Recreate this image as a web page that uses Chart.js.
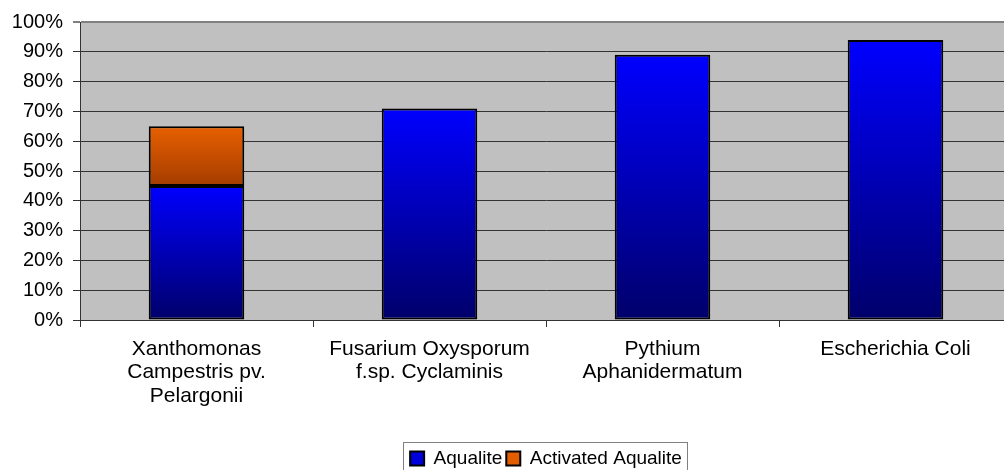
<!DOCTYPE html>
<html>
<head>
<meta charset="utf-8">
<script src="https://cdn.jsdelivr.net/npm/chart.js@4"></script>
<style>
  html, body { margin: 0; padding: 0; background: #fff; overflow: hidden; }
  #wrap { width: 1004px; height: 470px; overflow: hidden; }
</style>
</head>
<body>
<div id="wrap"><canvas id="myChart" width="1012" height="470"></canvas></div>
<script>
const categorias = [
  ['Xanthomonas', 'Campestris pv.', 'Pelargonii'],
  ['Fusarium Oxysporum', 'f.sp. Cyclaminis'],
  ['Pythium', 'Aphanidermatum'],
  ['Escherichia Coli']
];
const aqualite = [45, 71, 89, 94];
const activatedAqualite = [20, null, null, null];
const tickLabels = ['0%', '10%', '20%', '30%', '40%', '50%', '60%', '70%', '80%', '90%', '100%'];

const familia = 'Liberation Sans, Arial, sans-serif';
const coloresLeyenda = ['#0000DC', '#E25E00'];

// degradado por barra, de arriba (claro) a abajo (oscuro)
function degradado(ctx, claro, oscuro, plano) {
  const chart = ctx.chart;
  if (ctx.type !== 'data' || !chart.chartArea || !chart.scales.y) return plano;
  const y = chart.scales.y;
  const valor = ctx.raw;
  if (valor == null) return plano;
  const base = ctx.datasetIndex === 1 ? (aqualite[ctx.dataIndex] || 0) : 0;
  const top = y.getPixelForValue(base + valor);
  const bottom = y.getPixelForValue(base);
  const g = chart.ctx.createLinearGradient(0, top, 0, bottom);
  g.addColorStop(0, claro);
  g.addColorStop(1, oscuro);
  return g;
}

const fondoGris = {
  id: 'fondoGris',
  beforeDraw(chart) {
    const { ctx, chartArea: a } = chart;
    ctx.save();
    ctx.fillStyle = '#C0C0C0';
    ctx.fillRect(a.left, a.top, a.right - a.left, a.bottom - a.top);
    ctx.restore();
  }
};

// baja un poco la leyenda, como en el original
const bajarLeyenda = {
  id: 'bajarLeyenda',
  afterLayout(chart) {
    chart.legend.top += 8;
    chart.legend.bottom += 8;
  }
};

const bordeLeyenda = {
  id: 'bordeLeyenda',
  afterDraw(chart) {
    const cajas = chart.legend.legendHitBoxes;
    if (!cajas || !cajas.length) return;
    const izq = Math.min(...cajas.map(c => c.left)) - 7;
    const der = Math.max(...cajas.map(c => c.left + c.width)) + 5;
    const arr = Math.min(...cajas.map(c => c.top)) - 7;
    const abj = Math.max(...cajas.map(c => c.top + c.height)) + 7;
    const ctx = chart.ctx;
    ctx.save();
    ctx.strokeStyle = '#808080';
    ctx.lineWidth = 1;
    ctx.strokeRect(Math.round(izq) + 0.5, Math.round(arr) + 0.5, Math.round(der - izq), Math.round(abj - arr));
    ctx.restore();
  }
};

const ctx = document.getElementById('myChart');

new Chart(ctx, {
  type: 'bar',
  data: {
    labels: categorias,
    datasets: [{
      label: 'Aqualite',
      data: aqualite,
      backgroundColor: c => degradado(c, '#0000FF', '#00006A', coloresLeyenda[0]),
      borderColor: '#000',
      borderWidth: 2,
      borderSkipped: false
    }, {
      label: 'Activated Aqualite',
      data: activatedAqualite,
      backgroundColor: c => degradado(c, '#E86000', '#A43C00', coloresLeyenda[1]),
      borderColor: '#000',
      borderWidth: 2,
      borderSkipped: false
    }]
  },
  options: {
    responsive: false,
    animation: false,
    layout: { padding: { top: 17, right: 0, left: 0, bottom: 0 } },
    datasets: { bar: { barPercentage: 0.41, categoryPercentage: 1 } },
    scales: {
      x: {
        stacked: true,
        afterFit: s => { s.height = 117; },
        border: { color: '#333', width: 1 },
        grid: { drawOnChartArea: false, offset: true, color: '#333', tickLength: 7 },
        ticks: {
          color: '#000',
          font: { family: familia, size: 21, lineHeight: 1.12 },
          padding: 10,
          maxRotation: 0,
          autoSkip: false
        }
      },
      y: {
        stacked: true,
        min: 0,
        max: 100,
        afterFit: s => { s.width = 80; },
        border: { color: '#333', width: 1 },
        grid: {
          color: c => c.index === 10 ? '#808080' : '#333',
          lineWidth: c => c.index === 10 ? 2 : 1,
          tickLength: 7
        },
        ticks: {
          stepSize: 10,
          color: '#000',
          font: { family: familia, size: 20 },
          padding: 10,
          callback: (v, i) => tickLabels[i]
        }
      }
    },
    plugins: {
      legend: {
        position: 'bottom',
        fullSize: false,
        labels: {
          color: '#000',
          font: { family: familia, size: 19 },
          boxWidth: 14,
          boxHeight: 14,
          padding: 4,
          generateLabels: chart => {
            const items = Chart.defaults.plugins.legend.labels.generateLabels(chart);
            items.forEach((it, i) => {
              it.fillStyle = coloresLeyenda[i];
              it.strokeStyle = '#000';
              it.lineWidth = 2;
            });
            return items;
          }
        }
      },
      tooltip: { enabled: false }
    }
  },
  plugins: [fondoGris, bajarLeyenda, bordeLeyenda]
});
</script>
</body>
</html>
